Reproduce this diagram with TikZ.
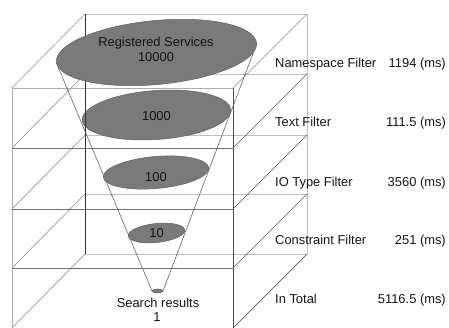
\documentclass[tikz,border=0pt]{standalone}
\usepackage{fontspec}
\setmainfont{Liberation Sans}
\begin{document}
\begin{tikzpicture}[x=1pt, y=-1pt,
  backline/.style={draw=black!25, line width=0.8pt},
  lightline/.style={draw=black!32, line width=0.8pt},
  frontline/.style={draw=black!55, line width=0.8pt},
  leftdiag/.style={draw=black!40, line width=0.7pt},
  rightdiag/.style={draw=black!65, line width=0.7pt},
  darkline/.style={draw=black!80, line width=0.9pt},
  coneline/.style={draw=black!60, line width=0.6pt},
  disc/.style={fill=black!52, draw=black!62, line width=0.5pt},
  txt/.style={inner sep=0pt, font=\fontsize{12.9}{15}\selectfont, text=black!92},
  lbl/.style={txt, anchor=base west},
  val/.style={txt, anchor=base east},
  inlbl/.style={txt, anchor=base}
]
\useasboundingbox (0,0) rectangle (449,328);

% back face: horizontal rims of every layer and the right back edge
\foreach \f in {88,148,209,268,328}{
  \pgfmathsetmacro\b{\f-74}
  \draw[backline] (85,\b) -- (307,\b);
}
\draw[backline] (307,14) -- (307,254);

% side faces: receding edges of each layer
\draw[lightline] (12,88) -- (85,14);
\draw[lightline] (233,88) -- (307,14);
\foreach \f in {148,209,268,328}{
  \pgfmathsetmacro\b{\f-74}
  \draw[leftdiag] (12,\f) -- (85,\b);
  \draw[rightdiag] (233,\f) -- (307,\b);
}

% front face
\draw[lightline] (12,88) -- (233,88);
\draw[lightline] (12,88) -- (12,328);
\foreach \f in {148,209,268}{
  \draw[frontline] (12,\f) -- (233,\f);
}
\draw[darkline] (85,14) -- (85,254);
\draw[draw=black!70, line width=0.9pt] (233,88) -- (233,328);

% funnel outline
\coordinate (topL) at (56,62);
\coordinate (topR) at (257,43);
\coordinate (tipL) at (152,291);
\coordinate (tipR) at (163,291);
\draw[coneline] (topL) -- (tipL);
\draw[coneline] (topR) -- (tipR);

% filter discs
\path[disc, shift={(156.5,52.5)}, rotate=5.4] (0,0) ellipse [x radius=100.5pt, y radius=32pt];
\path[disc, shift={(156.5,115)}, rotate=4] (0,0) ellipse [x radius=74.5pt, y radius=24.5pt];
\path[disc, shift={(156,172.5)}, rotate=5] (0,0) ellipse [x radius=53pt, y radius=16pt];
\path[disc, shift={(156.5,233)}, rotate=6] (0,0) ellipse [x radius=28.5pt, y radius=9.5pt];
\path[disc, shift={(157.5,291)}] (0,0) ellipse [x radius=5.5pt, y radius=2pt];

% back left edge seen below the top disc
\coordinate (edgeA) at (85,81);
\coordinate (edgeB) at (85,254);
\draw[darkline] (edgeA) -- (edgeB);

% counts
\node[inlbl] (regtitle) at (156,46.5) {Registered Services};
\node[inlbl] (regcount) at (156,62) {10000};
\node[inlbl] (c1000) at (156.5,120.5) {1000};
\node[inlbl] (c100) at (156,181.5) {100};
\node[inlbl] (c10) at (156.5,238) {10};
\node[inlbl] (restitle) at (158,307.5) {Search results};
\node[inlbl] (rescount) at (157,321.5) {1};

% filter names and timings
\node[lbl] (nsname) at (275,68) {Namespace Filter};
\node[val] (nstime) at (446,68) {1194 (ms)};
\node[lbl] (txname) at (275,127) {Text Filter};
\node[val] (txtime) at (446,127) {111.5 (ms)};
\node[lbl] (ioname) at (275,187) {IO Type Filter};
\node[val] (iotime) at (446,187) {3560 (ms)};
\node[lbl] (csname) at (275,245) {Constraint Filter};
\node[val] (cstime) at (446,245) {251 (ms)};
\node[lbl] (totname) at (275,303) {In Total};
\node[val] (tottime) at (446,303) {5116.5 (ms)};
\end{tikzpicture}
\end{document}
